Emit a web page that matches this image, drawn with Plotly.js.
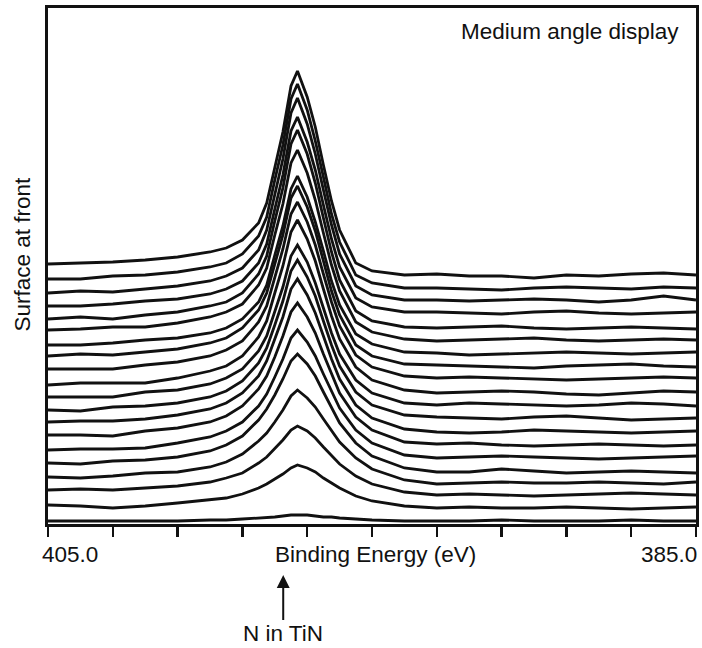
<!DOCTYPE html>
<html>
<head>
<meta charset="utf-8">
<script src="https://cdn.plot.ly/plotly-3.0.1.min.js"></script>
<style>html,body{margin:0;padding:0;background:#fff;}#chart{width:702px;height:648px;}</style>
</head>
<body>
<div id="chart"></div>
<script>
// Binding energy grid (eV), shared by all spectra
const ENERGY_EV = [405, 404, 403, 402, 401, 400, 399.5, 399, 398.5, 398.25, 398, 397.75, 397.5, 397.3, 397, 396.75, 396.5, 396.25, 396, 395.5, 395, 394, 393, 392, 391, 390, 389, 388, 387, 386, 385];

// Stacked N 1s spectra (arb. intensity incl. stacking offset), surface (front) first
const S00 = [2,2,2,2, 2,3,3,4,5,5,6,7,8,8,8,7,6,6,5,4,3,2, 2,2,3,2,2,2,3,2,2];
const S01 = [18,17,15,17, 20,23,25,29,35,39,44,49,55,58,55,51,45,40,35,27,22,17, 15,16,15,15,16,15,14,15,16];
const S02 = [33,34,33,35, 37,41,45,50,60,66,74,83,93,97,92,85,76,68,59,47,39,31, 28,29,28,27,28,29,30,29,28];
const S03 = [46,45,47,50, 51,56,61,69,82,90,101,113,127,133,125,116,104,93,81,65,54,43, 39,40,41,40,40,41,40,39,41];
const S04 = [60,59,62,63, 66,72,78,87,103,114,128,144,162,169,159,147,131,115,100,80,67,55, 51,51,54,52,50,51,52,51,50];
const S05 = [73,74,74,75, 80,86,92,101,117,129,146,164,185,193,181,167,149,132,115,93,80,68, 65,66,67,66,65,64,65,66,67];
const S06 = [88,88,87,92, 95,101,107,117,134,147,166,187,211,220,206,190,169,149,130,106,93,81, 79,80,78,77,78,79,78,77,78];
const S07 = [101,102,102,104, 108,114,120,130,147,162,184,206,234,244,228,210,187,164,144,118,105,94, 91,90,91,93,92,91,90,91,92];
const S08 = [113,112,116,117, 120,126,132,142,160,175,198,222,252,263,246,227,202,178,157,131,118,108, 106,105,104,106,107,105,103,104,105];
const S09 = [126,126,126,131, 133,139,145,154,172,187,211,236,267,278,261,240,215,190,169,143,130,120, 118,120,119,118,117,118,120,119,117];
const S10 = [138,140,140,140, 145,152,157,167,186,202,230,257,291,303,284,262,234,207,184,156,143,133, 130,131,132,131,129,128,130,132,131];
const S11 = [154,154,154,158, 161,167,173,182,201,217,246,274,309,321,301,278,249,221,197,168,156,147, 145,146,145,144,143,144,145,146,145];
const S12 = [167,169,168,171, 174,180,185,195,213,230,259,288,325,337,316,292,262,232,208,178,167,159, 158,157,156,155,157,158,159,157,156];
const S13 = [178,178,180,183, 185,190,195,204,221,238,268,297,334,347,326,301,272,242,218,189,179,171, 170,168,169,170,171,170,169,170,171];
const S14 = [193,194,196,196, 200,206,211,219,238,255,288,319,360,373,350,323,290,258,232,201,191,184, 182,183,184,185,183,182,183,184,183];
const S15 = [204,206,204,208, 211,217,221,230,249,267,302,335,379,393,369,340,305,271,243,212,202,196, 195,196,197,195,194,195,196,195,194];
const S16 = [217,217,219,222, 224,229,234,242,260,279,314,348,392,406,381,353,318,284,256,225,216,211, 211,210,209,211,212,210,209,210,211];
const S17 = [230,232,231,234, 237,242,247,255,273,293,330,364,410,425,399,369,333,298,269,237,228,223, 223,222,223,224,223,221,223,227,223];
const S18 = [244,244,247,248, 251,256,260,269,287,306,343,378,424,439,413,382,346,309,281,248,240,235, 235,234,233,235,236,235,234,236,235];
const S19 = [259,260,261,263, 266,271,275,283,300,320,356,391,437,452,426,396,358,322,293,260,252,248, 249,247,247,245,248,247,249,250,248];

const SPECTRA = [S00,S01,S02,S03,S04,S05,S06,S07,S08,S09,S10,S11,S12,S13,S14,S15,S16,S17,S18,S19];

// Axis / label texts
const X_TICK_LEFT = '405.0';
const X_TICK_RIGHT = '385.0';
const X_TITLE = 'Binding Energy (eV)';
const Y_TITLE = 'Surface at front';
const PANEL_TITLE = 'Medium angle display';
const PEAK_LABEL = 'N in TiN';
const PEAK_ENERGY = 397.74;

const FONT = 'Liberation Sans, Arial, Helvetica, sans-serif';
const FS = 22.5;

const traces = SPECTRA.map((ys) => ({
  x: ENERGY_EV,
  y: ys,
  type: 'scatter',
  mode: 'lines',
  line: {color: '#111', width: 2.8, shape: 'linear'},
  hoverinfo: 'skip',
  showlegend: false
}));

const layout = {
  width: 702,
  height: 648,
  margin: {l: 48, r: 6, t: 8, b: 124},
  paper_bgcolor: '#fff',
  plot_bgcolor: '#fff',
  font: {family: FONT, size: FS, color: '#111'},
  xaxis: {
    range: [405, 385],
    showgrid: false, zeroline: false,
    showline: true, linecolor: '#111', linewidth: 3, mirror: true,
    ticks: 'outside', ticklen: 10, tickwidth: 2.5, tickcolor: '#111',
    tickmode: 'linear', tick0: 385, dtick: 2,
    showticklabels: false
  },
  yaxis: {
    range: [-1, 515],
    showgrid: false, zeroline: false,
    showline: true, linecolor: '#111', linewidth: 3, mirror: true,
    ticks: '', showticklabels: false
  },
  annotations: [
    {text: PANEL_TITLE, xref: 'paper', yref: 'paper', x: 1, y: 1, xanchor: 'right', yanchor: 'middle', xshift: -15, yshift: -23, showarrow: false, font: {size: FS}},
    {text: X_TICK_LEFT, xref: 'x', yref: 'paper', x: 405, y: 0, xanchor: 'left', yanchor: 'middle', xshift: -8, yshift: -30, showarrow: false, font: {size: FS}},
    {text: X_TICK_RIGHT, xref: 'x', yref: 'paper', x: 385, y: 0, xanchor: 'right', yanchor: 'middle', xshift: 3, yshift: -30, showarrow: false, font: {size: FS}},
    {text: X_TITLE, xref: 'paper', yref: 'paper', x: 0.506, y: 0, xanchor: 'center', yanchor: 'middle', yshift: -30, showarrow: false, font: {size: FS}},
    {text: Y_TITLE, xref: 'paper', yref: 'paper', x: -0.0386, y: 0.524, xanchor: 'center', yanchor: 'middle', textangle: -90, showarrow: false, font: {size: FS}},
    {text: PEAK_LABEL, xref: 'x', yref: 'paper', x: PEAK_ENERGY, y: -0.0988, ax: 0, ay: 59, showarrow: true, arrowhead: 2, arrowsize: 1.3, arrowwidth: 2, arrowcolor: '#111', font: {size: FS}}
  ]
};

Plotly.newPlot('chart', traces, layout, {displayModeBar: false, staticPlot: true});
</script>
</body>
</html>
